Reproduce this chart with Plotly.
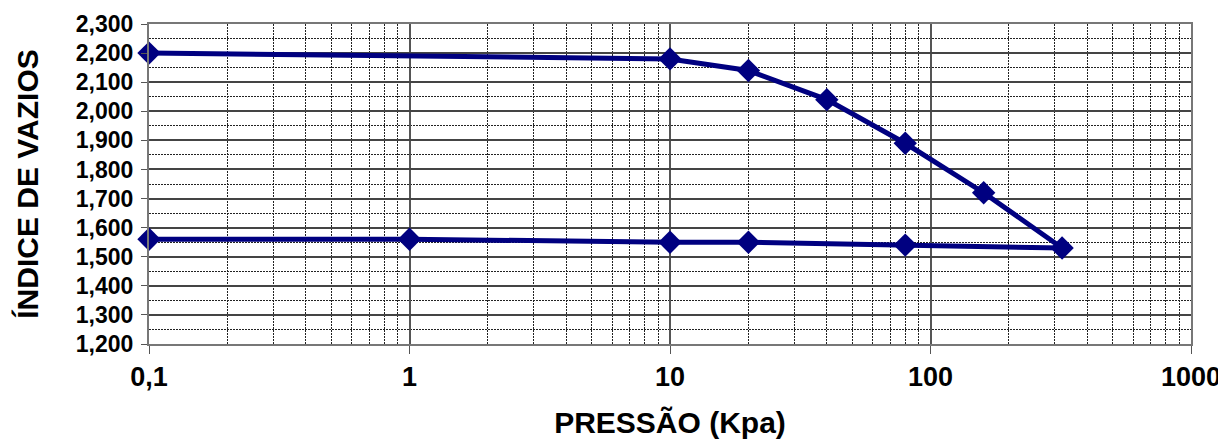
import plotly.graph_objects as go

pressure = [0.1, 10, 20, 40, 80, 160, 320, 80, 20, 10, 1, 0.1]
void_ratio = [2.200, 2.180, 2.140, 2.040, 1.890, 1.720, 1.530, 1.540, 1.550, 1.550, 1.560, 1.560]

y_ticks = [1.2 + 0.1 * i for i in range(12)]
y_labels = [f"{v:.3f}".replace(".", ",") for v in y_ticks]
x_ticks = [0.1, 1, 10, 100, 1000]
x_labels = ["0,1", "1", "10", "100", "1000"]
x_minor = [m * 10 ** e for e in range(-1, 3) for m in range(2, 10)]
y_minor = [1.25 + 0.1 * i for i in range(11)]

font = "Liberation Sans, Arial, sans-serif"

fig = go.Figure()
fig.add_trace(go.Scatter(
    x=pressure, y=void_ratio, mode="lines+markers",
    line=dict(color="#000080", width=5),
    marker=dict(symbol="diamond", size=18, color="#000080"),
    showlegend=False, cliponaxis=False,
))

# page body adds an 8px offset; margins compensate
fig.update_layout(
    width=1218, height=431,
    margin=dict(l=141, r=35, t=16, b=95),
    paper_bgcolor="white", plot_bgcolor="white",
    font=dict(family=font, color="black"),
)
fig.update_xaxes(
    type="log", range=[-1, 3], automargin=False,
    tickmode="array", tickvals=x_ticks, ticktext=[f"<b>{t}</b>" for t in x_labels],
    tickfont=dict(size=27, family=font, color="black"),
    ticks="outside", ticklen=8, tickcolor="#555",
    showgrid=True, gridcolor="#555", gridwidth=1.5,
    showline=True, linecolor="#777", linewidth=2, mirror=True,
    minor=dict(tickmode="array", tickvals=x_minor, showgrid=True,
               gridcolor="#222", griddash="2px,1px", gridwidth=1, ticks=""),
    title=dict(text="<b>PRESSÃO (Kpa)</b>", font=dict(size=30, family=font), standoff=22),
    zeroline=False,
)
fig.update_yaxes(
    range=[1.2, 2.3], automargin=False,
    tickmode="array", tickvals=y_ticks, ticktext=[f"<b>{t}</b>" for t in y_labels],
    tickfont=dict(size=23, family=font, color="black"),
    ticks="outside", ticklen=6, tickcolor="#555", ticklabelstandoff=3,
    showgrid=True, gridcolor="#444", gridwidth=1.5,
    showline=True, linecolor="#777", linewidth=2, mirror=True,
    minor=dict(tickmode="array", tickvals=y_minor, showgrid=True,
               gridcolor="#222", griddash="2px,1px", gridwidth=1, ticks=""),
    title=dict(text="<b>ÍNDICE DE VAZIOS</b>", font=dict(size=30, family=font), standoff=28),
    zeroline=False,
)

fig.write_html("out.html")
